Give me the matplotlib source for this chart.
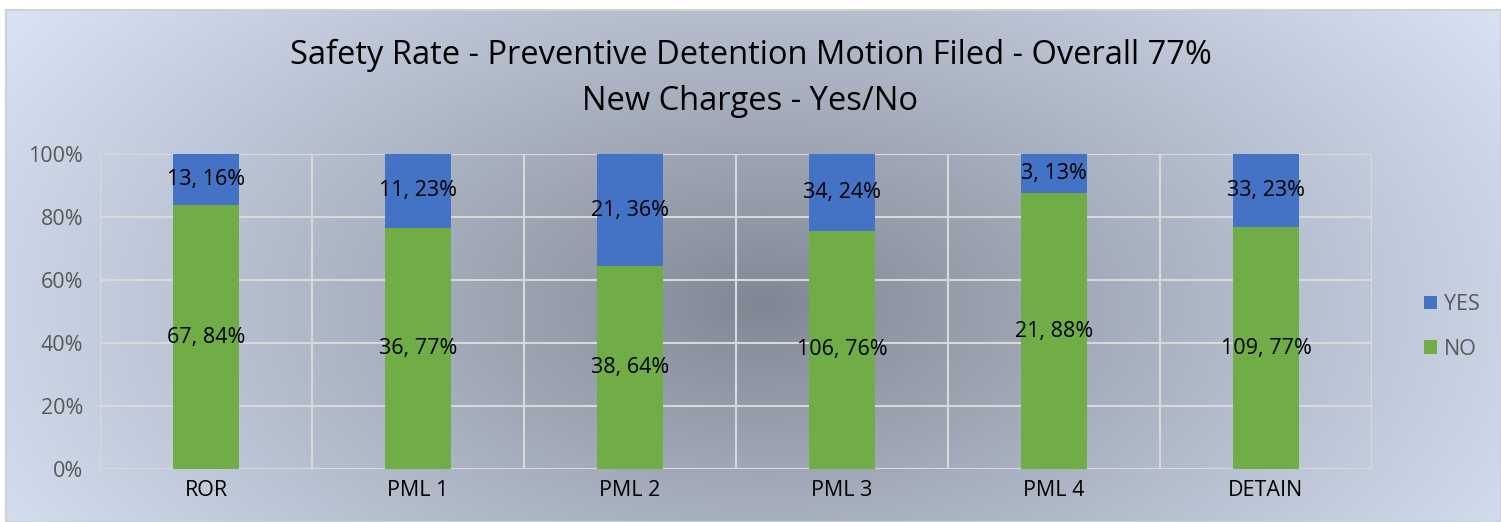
import numpy as np
import matplotlib
matplotlib.use('Agg')
import matplotlib.pyplot as plt
from matplotlib.patches import Rectangle

# Data
categories = ["ROR", "PML 1", "PML 2", "PML 3", "PML 4", "DETAIN"]
no_counts = [67, 36, 38, 106, 21, 109]
yes_counts = [13, 11, 21, 34, 3, 33]
no_pct_labels = ["84%", "77%", "64%", "76%", "88%", "77%"]
yes_pct_labels = ["16%", "23%", "36%", "24%", "13%", "23%"]
y_ticks = [0, 20, 40, 60, 80, 100]

BLUE = "#4472C4"
GREEN = "#70AD47"
GRID = "#D9D9D9"
TICK = "#595959"

plt.rcParams['font.family'] = ['Open Sans', 'DejaVu Sans']

W, H = 1501, 522
fig = plt.figure(figsize=(W / 100, H / 100), dpi=100)

# Background: white margin, then the chart box with a radial gradient
bg = fig.add_axes([0, 0, 1, 1])
bg.axis('off')
yy, xx = np.mgrid[0:H, 0:W]
r = np.sqrt(((xx - 760) / 900.0) ** 2 + ((yy - 300) / 520.0) ** 2)
r = np.clip(r, 0, 1)
inner = np.array([0x7f, 0x86, 0x93]) / 255.0
outer = np.array([0xd8, 0xe2, 0xf3]) / 255.0
t = r[..., None] ** 0.9
img = inner * (1 - t) + outer * t
bg.imshow(img, extent=[6, W, H, 10], aspect='auto', zorder=0)
bg.add_patch(Rectangle((6, 10), W - 6, H - 10, fill=False, edgecolor="#D0D0D0", lw=1.5, zorder=1))
bg.set_xlim(0, W)
bg.set_ylim(H, 0)

# Main axes
ax = fig.add_axes([100 / W, 1 - 469 / H, (1372 - 100) / W, (469 - 154) / H])
ax.patch.set_alpha(0)

totals = [n + y for n, y in zip(no_counts, yes_counts)]
no_h = [100.0 * n / t for n, t in zip(no_counts, totals)]
yes_h = [100.0 * y / t for y, t in zip(yes_counts, totals)]
x = np.arange(len(categories))
width = 0.31

ax.bar(x, no_h, width, color=GREEN, label="NO", zorder=3)
ax.bar(x, yes_h, width, bottom=no_h, color=BLUE, label="YES", zorder=3)

for i in range(len(categories)):
    ax.text(x[i], no_h[i] / 2, f"{no_counts[i]}, {no_pct_labels[i]}",
            ha='center', va='center', fontsize=15.5, color='black', zorder=4)
    ax.text(x[i], no_h[i] + yes_h[i] / 2, f"{yes_counts[i]}, {yes_pct_labels[i]}",
            ha='center', va='center', fontsize=15.5, color='black', zorder=4)

ax.set_xlim(-0.5, len(categories) - 0.5)
ax.set_ylim(0, 100)
ax.set_yticks(y_ticks)
ax.set_yticklabels([f"{v}%" for v in y_ticks])
ax.set_xticks(x)
ax.set_xticklabels(categories)
ax.tick_params(axis='both', length=0, labelsize=15.5)
ax.tick_params(axis='y', labelcolor=TICK, pad=12)
ax.tick_params(axis='x', labelcolor='black', pad=8)

for v in y_ticks:
    ax.axhline(v, color=GRID, lw=1.5, zorder=1)
for b in np.arange(-0.5, len(categories), 1.0):
    ax.axvline(b, color=GRID, lw=1.5, zorder=1)
for s in ax.spines.values():
    s.set_visible(False)

# Legend
handles, labels = ax.get_legend_handles_labels()
fig.legend(handles[::-1], labels[::-1], loc='center left', bbox_to_anchor=(1405 / W, 1 - 327 / H),
           frameon=False, fontsize=15.5, labelcolor=TICK, handlelength=0.6, handleheight=0.6,
           handletextpad=0.3, labelspacing=1.1)

fig.text(0.5, 1 - 55 / H, "Safety Rate - Preventive Detention Motion Filed - Overall 77%",
         ha='center', va='center', fontsize=23.5, color='black')
fig.text(0.5, 1 - 101 / H, "New Charges - Yes/No",
         ha='center', va='center', fontsize=23.5, color='black')

fig.savefig("out.png", dpi=100)
